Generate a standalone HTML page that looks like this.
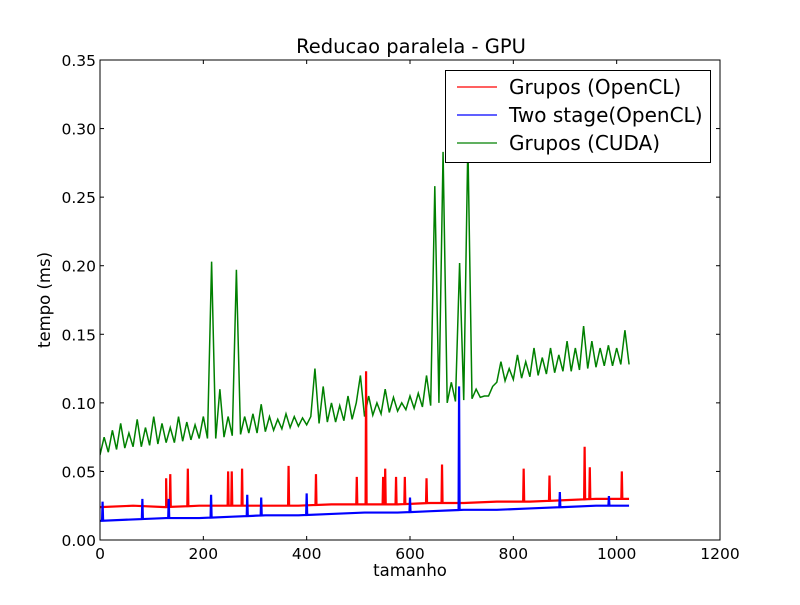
<!DOCTYPE html>
<html><head><meta charset="utf-8"><style>
body{margin:0;background:#fff}
svg text{font-family:"DejaVu Sans","Liberation Sans",sans-serif;fill:#000}
</style></head><body>
<svg id="c" width="800" height="600" xmlns="http://www.w3.org/2000/svg"></svg>
<script>
const xTicks=[0,200,400,600,800,1000,1200];
const yTicks=[0,0.05,0.10,0.15,0.20,0.25,0.30,0.35];
const greenStep=8;
const greenVals=[0.062,0.075,0.064,0.08,0.066,0.085,0.067,0.078,0.068,0.088,0.068,0.082,0.069,
0.09,0.070,0.085,0.071,0.082,0.071,0.09,0.072,0.086,0.073,0.084,0.074,0.09,
0.074,0.203,0.074,0.11,0.075,0.09,0.076,0.197,0.077,0.09,0.078,0.092,
0.078,0.099,0.079,0.09,0.080,0.088,0.081,0.092,0.082,0.09,0.083,0.089,0.084,
0.09,0.125,0.085,0.112,0.086,0.1,0.086,0.098,0.087,0.105,0.088,0.1,
0.12,0.09,0.105,0.091,0.1,0.092,0.11,0.093,0.104,0.094,0.1,0.095,0.105,
0.096,0.107,0.097,0.12,0.098,0.258,0.1,0.283,0.1,0.115,0.101,0.202,
0.102,0.29,0.103,0.11,0.104,0.105,0.105,0.112,0.115,0.13,0.116,0.125,0.117,
0.135,0.118,0.13,0.119,0.14,0.12,0.133,0.121,0.14,0.122,0.135,0.123,0.145,
0.123,0.14,0.124,0.156,0.125,0.145,0.126,0.14,0.127,0.142,0.127,0.14,0.128,0.153,0.128];
const baseStep=64;
const redBase=[0.024,0.025,0.024,0.025,0.025,0.025,0.025,0.026,0.026,0.026,0.027,0.027,0.028,0.028,0.029,0.030,0.030];
const redSpikeX=[128,136,170,248,255,275,365,418,497,515,548,552,573,590,632,662,820,870,938,948,1010];
const redSpikeY=[0.045,0.048,0.052,0.05,0.05,0.052,0.054,0.048,0.046,0.123,0.046,0.052,0.046,0.046,0.045,0.055,0.052,0.047,0.068,0.053,0.05];
const blueBase=[0.014,0.015,0.016,0.016,0.017,0.018,0.018,0.019,0.020,0.020,0.021,0.022,0.022,0.023,0.024,0.025,0.025];
const blueSpikeX=[5,82,133,215,285,312,400,600,695,890,985];
const blueSpikeY=[0.028,0.03,0.03,0.033,0.033,0.031,0.034,0.031,0.112,0.035,0.032];

const L=100,R=720,T=60,B=540;
const X=v=>L+(v/1200)*(R-L);
const Y=v=>B-(v/0.35)*(B-T);
const svg=document.getElementById('c');
const NS='http://www.w3.org/2000/svg';
function mk(tag,attrs,parent){const e=document.createElementNS(NS,tag);for(const k in attrs)e.setAttribute(k,attrs[k]);(parent||svg).appendChild(e);return e;}
function baseAt(arr,x){const i=Math.min(Math.floor(x/baseStep),arr.length-2);const f=(x-i*baseStep)/baseStep;return arr[i]+(arr[i+1]-arr[i])*f;}
function seriesPath(base,sx,sy){
  const pts=[];
  base.forEach((v,i)=>pts.push([i*baseStep,v]));
  sx.forEach((x,i)=>{const b=baseAt(base,x);pts.push([x-1,b]);pts.push([x,sy[i]]);pts.push([x+1,b]);});
  pts.sort((a,b)=>a[0]-b[0]);
  return pts.map((p,i)=>(i?'L':'M')+X(Math.max(0,p[0])).toFixed(2)+' '+Y(p[1]).toFixed(2)).join('');
}
mk('rect',{x:0,y:0,width:800,height:600,fill:'#fff'});
const clip=mk('clipPath',{id:'pc'});mk('rect',{x:L,y:T,width:R-L,height:B-T},clip);
let gd=greenVals.map((v,i)=>(i?'L':'M')+X(i*greenStep).toFixed(2)+' '+Y(v).toFixed(2)).join('');
let g=mk('path',{d:gd,fill:'none',stroke:'#008000','stroke-width':1.5,'clip-path':'url(#pc)'});


let r=mk('path',{d:seriesPath(redBase,redSpikeX,redSpikeY),fill:'none',stroke:'#ff0000','stroke-width':2.2,'clip-path':'url(#pc)'});


let b=mk('path',{d:seriesPath(blueBase,blueSpikeX,blueSpikeY),fill:'none',stroke:'#0000ff','stroke-width':2.2,'clip-path':'url(#pc)'});


let f=mk('rect',{x:L,y:T,width:R-L,height:B-T,fill:'none',stroke:'#000','stroke-width':1});


xTicks.forEach(t=>{const x=X(t);
  mk('line',{x1:x,x2:x,y1:B,y2:B-4,stroke:'#000'});mk('line',{x1:x,x2:x,y1:T,y2:T+4,stroke:'#000'});
  let tx=mk('text',{x:x,y:B+19,'font-size':15.5,'text-anchor':'middle'});tx.textContent=t;
  
  });
yTicks.forEach(t=>{const y=Y(t);
  mk('line',{x1:L,x2:L+4,y1:y,y2:y,stroke:'#000'});mk('line',{x1:R,x2:R-4,y1:y,y2:y,stroke:'#000'});
  let tx=mk('text',{x:L-4,y:y+6,'font-size':15.5,'text-anchor':'end'});tx.textContent=t.toFixed(2);
  
  });
let ti=mk('text',{x:411,y:53,'font-size':19.5,'text-anchor':'middle'});ti.textContent='Reducao paralela - GPU';


let xl=mk('text',{x:410,y:576,'font-size':16.5,'text-anchor':'middle'});xl.textContent='tamanho';


let yl=mk('text',{x:0,y:0,'font-size':16.5,'text-anchor':'middle',transform:'translate(50,300) rotate(-90)'});yl.textContent='tempo (ms)';


const lg=mk('g',{});


mk('rect',{x:445.5,y:70.5,width:265,height:92,fill:'#fff',stroke:'#000'},lg);
const names=['Grupos (OpenCL)','Two stage(OpenCL)','Grupos (CUDA)'];
const cols=['#ff0000','#0000ff','#008000'];
names.forEach((n,i)=>{const y=87+i*28;
  const e=mk('g',{},lg);
  
  
  mk('line',{x1:457,x2:497,y1:y,y2:y,stroke:cols[i],'stroke-width':1.2},e);
  const t=mk('text',{x:509,y:y+7,'font-size':20},e);t.textContent=n;});
</script>
</body></html>
